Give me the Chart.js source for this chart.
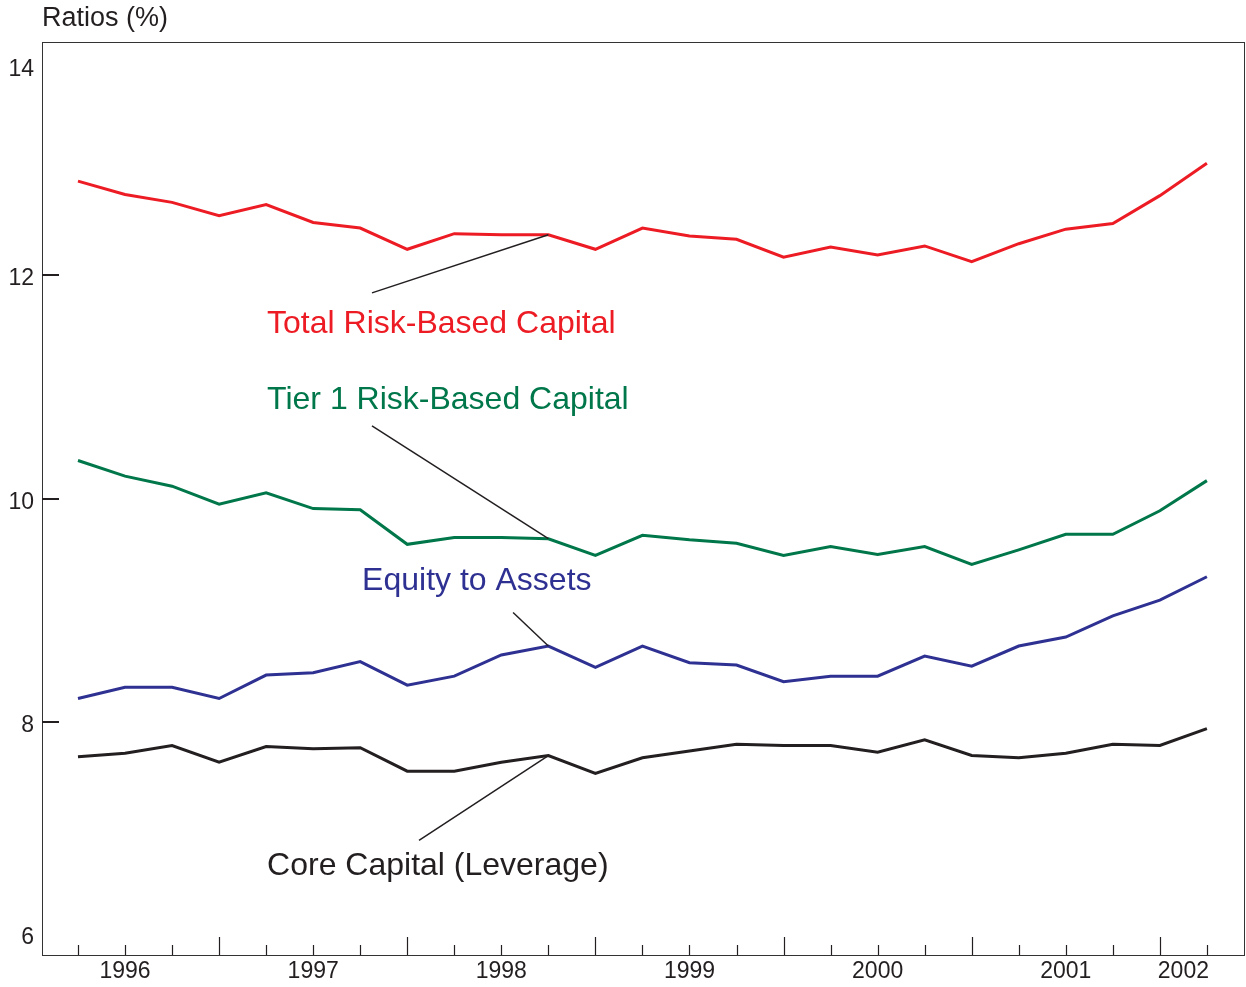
<!DOCTYPE html>
<html>
<head>
<meta charset="utf-8">
<script src="https://cdn.jsdelivr.net/npm/chart.js@4.4.1/dist/chart.umd.min.js"></script>
<style>
html,body{margin:0;padding:0;background:#fff;}
#wrap{width:1246px;height:987px;position:relative;}
</style>
</head>
<body>
<div id="wrap"><canvas id="c" width="1246" height="987"></canvas></div>
<script>
// ---- data ----
const quarters = ['1996Q1','1996Q2','1996Q3','1996Q4','1997Q1','1997Q2','1997Q3','1997Q4',
  '1998Q1','1998Q2','1998Q3','1998Q4','1999Q1','1999Q2','1999Q3','1999Q4',
  '2000Q1','2000Q2','2000Q3','2000Q4','2001Q1','2001Q2','2001Q3','2001Q4','2002Q1'];
const totalRiskBased = [12.84,12.72,12.65,12.53,12.63,12.47,12.42,12.23,12.37,12.36,12.36,12.23,12.42,
  12.35,12.32,12.16,12.25,12.18,12.26,12.12,12.28,12.41,12.46,12.71,13.00];
const tier1RiskBased = [10.34,10.20,10.11,9.95,10.05,9.91,9.90,9.59,9.65,9.65,9.64,9.49,9.67,
  9.63,9.60,9.49,9.57,9.50,9.57,9.41,9.54,9.68,9.68,9.89,10.16];
const equityToAssets = [8.21,8.31,8.31,8.21,8.42,8.44,8.54,8.33,8.41,8.60,8.68,8.49,8.68,
  8.53,8.51,8.36,8.41,8.41,8.59,8.50,8.68,8.76,8.95,9.09,9.30];
const coreCapital = [7.69,7.72,7.79,7.64,7.78,7.76,7.77,7.56,7.56,7.64,7.70,7.54,7.68,
  7.74,7.80,7.79,7.79,7.73,7.84,7.70,7.68,7.72,7.80,7.79,7.94];
const yTickValues = [6,8,10,12,14];
const yTickLabels = ['6','8','10','12','14'];
const yearLabels = ['1996','1997','1998','1999','2000','2001','2002'];
const yearLabelPos = [1,5,9,13,17,21,23.5];
const seriesNames = ['Total Risk-Based Capital','Tier 1 Risk-Based Capital','Equity to Assets','Core Capital (Leverage)'];
// annotation label anchors (x index, y value) and connector starts
const labelAnchor = [[4.02,11.56],[4.02,10.88],[6.04,9.26],[4.02,6.71]];
const connectorFrom = [[6.25,11.84],[6.25,10.65],[9.25,8.98],[7.25,6.94]];
const connectorToIndex = 10;

const colors = ['#ed1c24','#00774a','#2e3192','#231f20'];
const allSeries = [totalRiskBased,tier1RiskBased,equityToAssets,coreCapital];
const FONT = '"Liberation Sans", Arial, Helvetica, sans-serif';

const deco = {
  id:'deco',
  afterDraw(chart){
    const ctx = chart.ctx, a = chart.chartArea;
    const xs = chart.scales.x, ys = chart.scales.y;
    ctx.save();
    // border
    ctx.strokeStyle = '#333';
    ctx.lineWidth = 1;
    ctx.strokeRect(a.left+0.5, a.top+0.5, a.right-a.left-1, a.bottom-a.top);
    // y ticks (inward)
    ctx.strokeStyle = '#231f20';
    ctx.lineWidth = 2;
    yTickValues.forEach(v=>{
      if (v<=6 || v>=14) return;
      const py = Math.round(ys.getPixelForValue(v));
      ctx.beginPath(); ctx.moveTo(a.left, py); ctx.lineTo(a.left+17, py); ctx.stroke();
    });
    // y labels
    ctx.fillStyle = '#231f20';
    ctx.font = '23px ' + FONT;
    ctx.textAlign = 'right'; ctx.textBaseline = 'middle';
    yTickValues.forEach((v,i)=>{
      let py = ys.getPixelForValue(v)+4;
      py = Math.max(a.top+28, Math.min(a.bottom-17, py));
      ctx.fillText(yTickLabels[i], 34, py);
    });
    // x ticks (inward)
    ctx.lineWidth = 1.2;
    quarters.forEach((q,i)=>{
      const px = Math.round(xs.getPixelForValue(i))+0.5;
      const len = q.endsWith('Q4') ? 18 : 10;
      ctx.beginPath(); ctx.moveTo(px, a.bottom); ctx.lineTo(px, a.bottom-len); ctx.stroke();
    });
    // x labels
    ctx.textAlign = 'center';
    yearLabels.forEach((l,i)=>{
      ctx.fillText(l, xs.getPixelForValue(yearLabelPos[i]), a.bottom+17);
    });
    // title
    ctx.textAlign = 'left';
    ctx.font = '27px ' + FONT;
    ctx.fillText('Ratios (%)', a.left, 19);
    // connectors
    ctx.strokeStyle = '#231f20';
    ctx.lineWidth = 1.5;
    allSeries.forEach((s,k)=>{
      const f = connectorFrom[k];
      ctx.beginPath();
      ctx.moveTo(xs.getPixelForValue(f[0]), ys.getPixelForValue(f[1]));
      ctx.lineTo(xs.getPixelForValue(connectorToIndex), ys.getPixelForValue(s[connectorToIndex]));
      ctx.stroke();
    });
    // series labels
    ctx.font = '32px ' + FONT;
    ctx.textBaseline = 'middle';
    seriesNames.forEach((n,k)=>{
      ctx.fillStyle = colors[k];
      ctx.fillText(n, xs.getPixelForValue(labelAnchor[k][0]), ys.getPixelForValue(labelAnchor[k][1]));
    });
    ctx.restore();
  }
};

new Chart(document.getElementById('c'), {
  type:'line',
  data:{
    datasets: allSeries.map((s,k)=>({
      label: seriesNames[k],
      data: s.map((v,i)=>({x:i, y:v})),
      borderColor: colors[k],
      borderWidth: 3,
      pointRadius: 0,
      tension: 0,
      fill:false
    }))
  },
  options:{
    responsive:false,
    animation:false,
    events:[],
    layout:{padding:{left:42, top:42, right:1, bottom:32}},
    plugins:{legend:{display:false}, tooltip:{enabled:false}},
    scales:{
      x:{type:'linear', min:-0.765, max:24.81, display:false},
      y:{type:'linear', min:5.915, max:14.085, display:false}
    }
  },
  plugins:[deco]
});
</script>
</body>
</html>
